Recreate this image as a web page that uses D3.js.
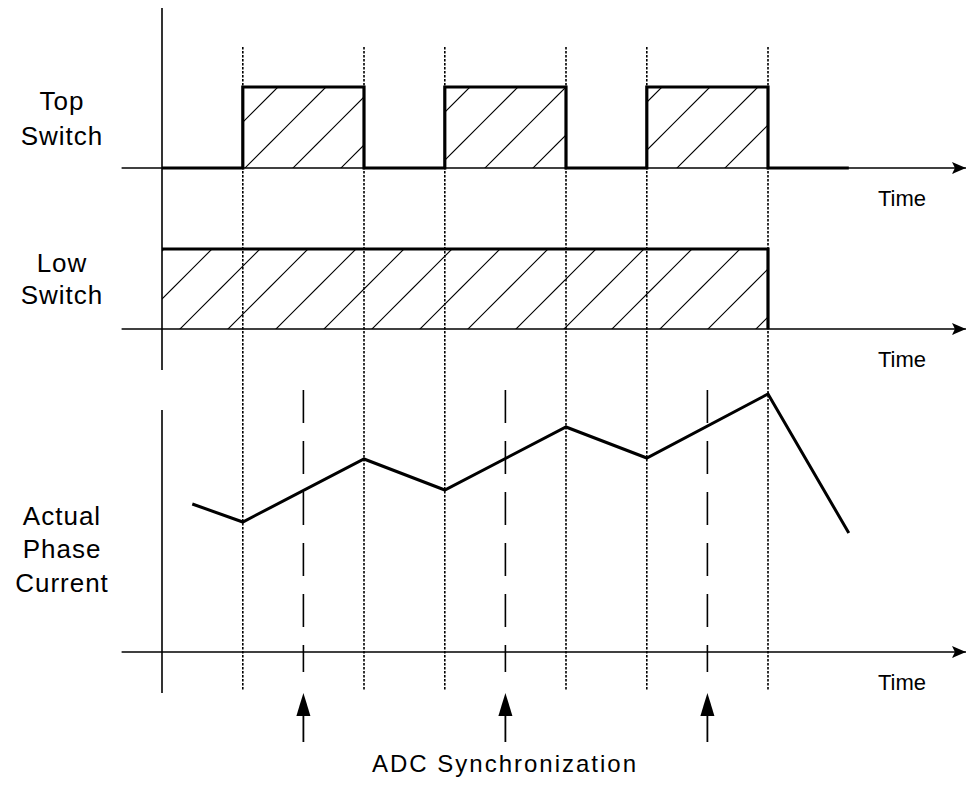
<!DOCTYPE html>
<html>
<head>
<meta charset="utf-8">
<script src="https://cdn.jsdelivr.net/npm/d3@7"></script>
<style>
  body { margin: 0; background: #fff; }
  text { font-family: "Liberation Sans", Arial, sans-serif; fill: #000; }
</style>
</head>
<body>
<div id="chart"></div>
<script>
/** Switching instants (time units) and the switch states that follow them */
var topSwitchTimes = [0, 2, 5, 7, 10, 12, 15, 17];
var topSwitchStates = [0, 1, 0, 1, 0, 1, 0, 0];
var lowSwitchTimes = [0, 15];
var lowSwitchStates = [1, 0];
/** Edges of the top switch pulses (dotted guides) */
var edgeTimes = [2, 5, 7, 10, 12, 15];
/** ADC sampling instants, middle of each on-time */
var adcTimes = [3.5, 8.5, 13.5];
/** Phase current corner points */
var currentTimes = [0.75, 2, 5, 7, 10, 12, 15, 17];
var currentValues = [14.8, 13.0, 19.3, 16.2, 22.5, 19.4, 25.8, 11.9];
/** Labels */
var panelLabels = [["Top", "Switch"], ["Low", "Switch"], ["Actual", "Phase", "Current"]];
var axisLabel = "Time";
var adcLabel = "ADC Synchronization";

var width = 970, height = 785;

var svg = d3.select("#chart")
  .append("svg")
  .attr("width", width)
  .attr("height", height);

/** Time scale shared by every panel */
var x = d3.scaleLinear().domain([0, 20]).range([162, 970]);
/** One y scale per panel */
var yTop = d3.scaleLinear().domain([0, 1]).range([168, 87]);
var yLow = d3.scaleLinear().domain([0, 1]).range([329, 249]);
var yCur = d3.scaleLinear().domain([0, 30]).range([652, 352]);

/** Hatch pattern for "on" regions */
var defs = svg.append("defs");
defs.append("pattern")
  .attr("id", "hatch")
  .attr("patternUnits", "userSpaceOnUse")
  .attr("width", 48)
  .attr("height", 48)
  .append("path")
  .attr("d", "M-2,31 L31,-2 M27,50 L50,27")
  .attr("stroke", "#000")
  .attr("stroke-width", 1.2);

defs.append("marker")
  .attr("id", "axisArrow")
  .attr("viewBox", "0 0 14 12")
  .attr("refX", 14).attr("refY", 6)
  .attr("markerWidth", 14).attr("markerHeight", 12)
  .attr("markerUnits", "userSpaceOnUse")
  .attr("orient", "auto")
  .append("path")
  .attr("d", "M0,0 L14,6 L0,12 L3,6 Z")
  .attr("fill", "#000");

/**
 * @desc Draws one switch panel: hatched area, thick state trace and time axis.
 */
function drawSwitch(times, states, y)
{
  var data = times.map(function(t, i) { return {t: t, s: states[i]}; });
  var area = d3.area()
    .curve(d3.curveStepAfter)
    .x(function(d) { return x(d.t); })
    .y0(y(0))
    .y1(function(d) { return y(d.s); });
  var line = d3.line()
    .curve(d3.curveStepAfter)
    .x(function(d) { return x(d.t); })
    .y(function(d) { return y(d.s); });

  svg.append("path")
    .datum(data)
    .attr("d", area)
    .attr("fill", "url(#hatch)");

  drawTimeAxis(y(0));

  svg.append("path")
    .datum(data)
    .attr("d", line)
    .attr("fill", "none")
    .attr("stroke", "#000")
    .attr("stroke-width", 3.2);
}

/**
 * @desc Horizontal time axis with arrow head and "Time" label below.
 */
function drawTimeAxis(yPos)
{
  svg.append("line")
    .attr("x1", x(-1)).attr("x2", x(19.9))
    .attr("y1", yPos).attr("y2", yPos)
    .attr("stroke", "#000")
    .attr("stroke-width", 1.6)
    .attr("marker-end", "url(#axisArrow)");
  svg.append("text")
    .attr("x", 902)
    .attr("y", yPos + 38)
    .attr("text-anchor", "middle")
    .style("font-size", "22px")
    .text(axisLabel);
}

/** Vertical axes */
svg.append("line")
  .attr("x1", x(0)).attr("x2", x(0))
  .attr("y1", 8).attr("y2", 370)
  .attr("stroke", "#000").attr("stroke-width", 1.6);
svg.append("line")
  .attr("x1", x(0)).attr("x2", x(0))
  .attr("y1", 410).attr("y2", 693)
  .attr("stroke", "#000").attr("stroke-width", 1.6);

/** Dotted guides at the pulse edges */
svg.selectAll(".edge")
  .data(edgeTimes)
  .enter().append("line")
    .attr("class", "edge")
    .attr("x1", function(d) { return x(d); })
    .attr("x2", function(d) { return x(d); })
    .attr("y1", 47).attr("y2", 691)
    .attr("stroke", "#000")
    .attr("stroke-width", 1.6)
    .attr("stroke-dasharray", "2.5,1.5");

drawSwitch(topSwitchTimes, topSwitchStates, yTop);
drawSwitch(lowSwitchTimes, lowSwitchStates, yLow);

/** Current panel */
drawTimeAxis(yCur(0));

svg.selectAll(".adc")
  .data(adcTimes)
  .enter().append("line")
    .attr("class", "adc")
    .attr("x1", function(d) { return x(d); })
    .attr("x2", function(d) { return x(d); })
    .attr("y1", 390).attr("y2", 672)
    .attr("stroke", "#000")
    .attr("stroke-width", 1.6)
    .attr("stroke-dasharray", "33,18");

var currentData = currentTimes.map(function(t, i) { return {t: t, v: currentValues[i]}; });
svg.append("path")
  .datum(currentData)
  .attr("d", d3.line()
    .x(function(d) { return x(d.t); })
    .y(function(d) { return yCur(d.v); }))
  .attr("fill", "none")
  .attr("stroke", "#000")
  .attr("stroke-width", 3);

/** ADC sync arrows */
var arrows = svg.selectAll(".adcArrow")
  .data(adcTimes)
  .enter().append("g")
    .attr("class", "adcArrow")
    .attr("transform", function(d) { return "translate(" + x(d) + ",0)"; });
arrows.append("line")
  .attr("y1", 712).attr("y2", 742)
  .attr("stroke", "#000")
  .attr("stroke-width", 1.8);
arrows.append("path")
  .attr("d", "M0,693 L-4,706 L-7,716 L7,716 L4,706 Z")
  .attr("fill", "#000");

svg.append("text")
  .attr("x", 505)
  .attr("y", 772)
  .attr("text-anchor", "middle")
  .style("font-size", "24px")
  .style("letter-spacing", "2px")
  .text(adcLabel);

/** Panel labels on the left */
var labelBaselines = [[110, 145], [272, 304], [525, 558, 592]];
panelLabels.forEach(function(lines, i)
{
  lines.forEach(function(s, j)
  {
    svg.append("text")
      .attr("x", 62)
      .attr("y", labelBaselines[i][j])
      .attr("text-anchor", "middle")
      .style("font-size", "26px")
      .style("letter-spacing", "1px")
      .text(s);
  });
});
</script>
</body>
</html>
